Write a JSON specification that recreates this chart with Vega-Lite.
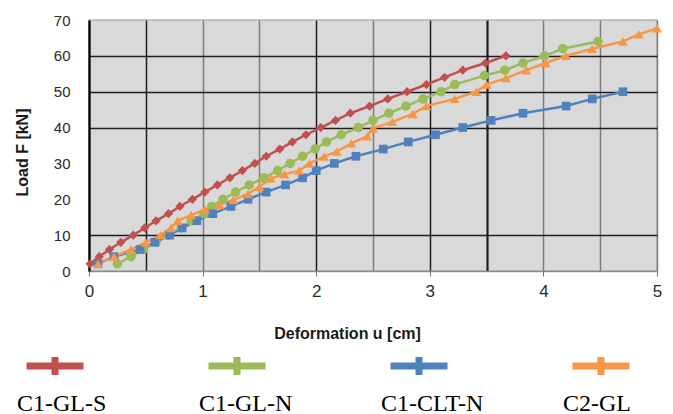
{
  "$schema": "https://vega.github.io/schema/vega-lite/v6.json",
  "width": 568,
  "height": 251,
  "autosize": {"type": "none"},
  "padding": {"left": 89, "top": 20, "right": 16, "bottom": 143},
  "background": "#ffffff",
  "config": {
    "view": {"fill": "#d9d9d9", "stroke": "#b5b5b5", "strokeWidth": 1.5},
    "axis": {"labelFont": "Liberation Sans", "titleFont": "Liberation Sans", "labelColor": "#2a2a2a", "titleColor": "#1a1a1a"}
  },
  "data": {
    "values": [
      {"s": "C1-GL-S", "u": 0.01, "F": 2}, {"s": "C1-GL-S", "u": 0.09, "F": 4}, {"s": "C1-GL-S", "u": 0.18, "F": 6}, {"s": "C1-GL-S", "u": 0.28, "F": 8},
      {"s": "C1-GL-S", "u": 0.39, "F": 10}, {"s": "C1-GL-S", "u": 0.49, "F": 12}, {"s": "C1-GL-S", "u": 0.59, "F": 14}, {"s": "C1-GL-S", "u": 0.70, "F": 16},
      {"s": "C1-GL-S", "u": 0.80, "F": 18}, {"s": "C1-GL-S", "u": 0.91, "F": 20}, {"s": "C1-GL-S", "u": 1.02, "F": 22}, {"s": "C1-GL-S", "u": 1.13, "F": 24},
      {"s": "C1-GL-S", "u": 1.24, "F": 26}, {"s": "C1-GL-S", "u": 1.35, "F": 28}, {"s": "C1-GL-S", "u": 1.46, "F": 30}, {"s": "C1-GL-S", "u": 1.56, "F": 32},
      {"s": "C1-GL-S", "u": 1.68, "F": 34}, {"s": "C1-GL-S", "u": 1.79, "F": 36}, {"s": "C1-GL-S", "u": 1.91, "F": 38}, {"s": "C1-GL-S", "u": 2.04, "F": 40},
      {"s": "C1-GL-S", "u": 2.17, "F": 42}, {"s": "C1-GL-S", "u": 2.30, "F": 44}, {"s": "C1-GL-S", "u": 2.47, "F": 46}, {"s": "C1-GL-S", "u": 2.63, "F": 48},
      {"s": "C1-GL-S", "u": 2.80, "F": 50}, {"s": "C1-GL-S", "u": 2.97, "F": 52}, {"s": "C1-GL-S", "u": 3.13, "F": 54}, {"s": "C1-GL-S", "u": 3.29, "F": 56},
      {"s": "C1-GL-S", "u": 3.49, "F": 58}, {"s": "C1-GL-S", "u": 3.67, "F": 60},

      {"s": "C1-GL-N", "u": 0.25, "F": 2}, {"s": "C1-GL-N", "u": 0.37, "F": 4}, {"s": "C1-GL-N", "u": 0.48, "F": 6}, {"s": "C1-GL-N", "u": 0.59, "F": 8},
      {"s": "C1-GL-N", "u": 0.70, "F": 10}, {"s": "C1-GL-N", "u": 0.81, "F": 12}, {"s": "C1-GL-N", "u": 0.90, "F": 14}, {"s": "C1-GL-N", "u": 1.01, "F": 16},
      {"s": "C1-GL-N", "u": 1.08, "F": 18}, {"s": "C1-GL-N", "u": 1.18, "F": 20}, {"s": "C1-GL-N", "u": 1.29, "F": 22}, {"s": "C1-GL-N", "u": 1.41, "F": 24},
      {"s": "C1-GL-N", "u": 1.54, "F": 26}, {"s": "C1-GL-N", "u": 1.66, "F": 28}, {"s": "C1-GL-N", "u": 1.77, "F": 30}, {"s": "C1-GL-N", "u": 1.88, "F": 32},
      {"s": "C1-GL-N", "u": 1.99, "F": 34}, {"s": "C1-GL-N", "u": 2.09, "F": 36}, {"s": "C1-GL-N", "u": 2.22, "F": 38}, {"s": "C1-GL-N", "u": 2.37, "F": 40},
      {"s": "C1-GL-N", "u": 2.50, "F": 42}, {"s": "C1-GL-N", "u": 2.64, "F": 44}, {"s": "C1-GL-N", "u": 2.79, "F": 46}, {"s": "C1-GL-N", "u": 2.94, "F": 48},
      {"s": "C1-GL-N", "u": 3.10, "F": 50}, {"s": "C1-GL-N", "u": 3.22, "F": 52}, {"s": "C1-GL-N", "u": 3.48, "F": 54.5}, {"s": "C1-GL-N", "u": 3.66, "F": 56},
      {"s": "C1-GL-N", "u": 3.82, "F": 58}, {"s": "C1-GL-N", "u": 4.01, "F": 60}, {"s": "C1-GL-N", "u": 4.17, "F": 62}, {"s": "C1-GL-N", "u": 4.48, "F": 64},

      {"s": "C1-CLT-N", "u": 0.08, "F": 2}, {"s": "C1-CLT-N", "u": 0.22, "F": 4}, {"s": "C1-CLT-N", "u": 0.45, "F": 6}, {"s": "C1-CLT-N", "u": 0.58, "F": 8},
      {"s": "C1-CLT-N", "u": 0.71, "F": 10}, {"s": "C1-CLT-N", "u": 0.82, "F": 12}, {"s": "C1-CLT-N", "u": 0.95, "F": 14}, {"s": "C1-CLT-N", "u": 1.09, "F": 16},
      {"s": "C1-CLT-N", "u": 1.25, "F": 18}, {"s": "C1-CLT-N", "u": 1.40, "F": 20}, {"s": "C1-CLT-N", "u": 1.56, "F": 22}, {"s": "C1-CLT-N", "u": 1.73, "F": 24},
      {"s": "C1-CLT-N", "u": 1.88, "F": 26}, {"s": "C1-CLT-N", "u": 2.00, "F": 28}, {"s": "C1-CLT-N", "u": 2.16, "F": 30}, {"s": "C1-CLT-N", "u": 2.35, "F": 32},
      {"s": "C1-CLT-N", "u": 2.59, "F": 34}, {"s": "C1-CLT-N", "u": 2.81, "F": 36}, {"s": "C1-CLT-N", "u": 3.05, "F": 38}, {"s": "C1-CLT-N", "u": 3.29, "F": 40},
      {"s": "C1-CLT-N", "u": 3.54, "F": 42}, {"s": "C1-CLT-N", "u": 3.82, "F": 44}, {"s": "C1-CLT-N", "u": 4.20, "F": 46}, {"s": "C1-CLT-N", "u": 4.43, "F": 48},
      {"s": "C1-CLT-N", "u": 4.70, "F": 50},

      {"s": "C2-GL", "u": 0.08, "F": 2}, {"s": "C2-GL", "u": 0.22, "F": 4}, {"s": "C2-GL", "u": 0.37, "F": 6}, {"s": "C2-GL", "u": 0.50, "F": 8},
      {"s": "C2-GL", "u": 0.63, "F": 10}, {"s": "C2-GL", "u": 0.72, "F": 12}, {"s": "C2-GL", "u": 0.78, "F": 14}, {"s": "C2-GL", "u": 0.90, "F": 15.6},
      {"s": "C2-GL", "u": 1.02, "F": 17.2}, {"s": "C2-GL", "u": 1.15, "F": 18.4}, {"s": "C2-GL", "u": 1.27, "F": 19.8}, {"s": "C2-GL", "u": 1.40, "F": 21.5},
      {"s": "C2-GL", "u": 1.50, "F": 23.5}, {"s": "C2-GL", "u": 1.60, "F": 25.8}, {"s": "C2-GL", "u": 1.72, "F": 27}, {"s": "C2-GL", "u": 1.85, "F": 28},
      {"s": "C2-GL", "u": 1.94, "F": 30}, {"s": "C2-GL", "u": 2.07, "F": 31.9}, {"s": "C2-GL", "u": 2.18, "F": 33.3}, {"s": "C2-GL", "u": 2.31, "F": 35.6},
      {"s": "C2-GL", "u": 2.45, "F": 37.6}, {"s": "C2-GL", "u": 2.50, "F": 39.8}, {"s": "C2-GL", "u": 2.67, "F": 41.6}, {"s": "C2-GL", "u": 2.85, "F": 43.8},
      {"s": "C2-GL", "u": 2.97, "F": 46}, {"s": "C2-GL", "u": 3.22, "F": 48}, {"s": "C2-GL", "u": 3.41, "F": 50}, {"s": "C2-GL", "u": 3.50, "F": 52},
      {"s": "C2-GL", "u": 3.67, "F": 53.8}, {"s": "C2-GL", "u": 3.85, "F": 56}, {"s": "C2-GL", "u": 4.02, "F": 58}, {"s": "C2-GL", "u": 4.20, "F": 60},
      {"s": "C2-GL", "u": 4.43, "F": 62}, {"s": "C2-GL", "u": 4.70, "F": 64}, {"s": "C2-GL", "u": 4.84, "F": 66}, {"s": "C2-GL", "u": 5.00, "F": 67.7}
    ]
  },
  "encoding": {
    "x": {
      "field": "u", "type": "quantitative",
      "scale": {"domain": [0, 5], "nice": false, "zero": false},
      "axis": {
        "title": "Deformation u [cm]",
        "titleFontSize": 16, "titleFontWeight": "bold",
        "titleX": 258, "titleY": 62, "titleAlign": "center", "titleBaseline": "middle",
        "values": [0, 0.5, 1, 1.5, 2, 2.5, 3, 3.5, 4, 4.5, 5],
        "labelExpr": "datum.value % 1 === 0 ? format(datum.value, 'd') : ''",
        "labelFontSize": 17, "labelPadding": 7, "labelFlush": false,
        "tickSize": 5, "tickColor": "#707070", "tickWidth": 1,
        "tickOpacity": {"condition": {"test": "datum.value % 1 !== 0", "value": 0}, "value": 1},
        "domainColor": "#8a8a8a", "domainWidth": 1.5,
        "grid": true,
        "gridColor": {"condition": {"test": "datum.value == 0.5 || datum.value == 3 || datum.value == 3.5 || datum.value == 2", "value": "#1e1e1e"}, "value": "#7c7c7c"},
        "gridWidth": {"condition": {"test": "datum.value == 3.5", "value": 2.2}, "value": 1.5},
        "gridOpacity": 1
      }
    },
    "y": {
      "field": "F", "type": "quantitative",
      "scale": {"domain": [0, 70], "nice": false},
      "axis": {
        "title": "Load F [kN]",
        "titleFontSize": 16, "titleFontWeight": "bold",
        "titleX": -67, "titleY": 132, "titleAngle": -90, "titleAlign": "center", "titleBaseline": "middle",
        "values": [0, 10, 20, 30, 40, 50, 60, 70],
        "labelFontSize": 15, "labelPadding": 19,
        "ticks": false,
        "domainColor": "#000000", "domainWidth": 2.2,
        "grid": true,
        "gridColor": "#1e1e1e", "gridWidth": 1.5,
        "gridOpacity": {"condition": {"test": "datum.value == 0 || datum.value == 20 || datum.value == 30 || datum.value == 70", "value": 0}, "value": 1}
      }
    }
  },
  "layer": [
    {
      "mark": {"type": "line", "strokeWidth": 2.5},
      "encoding": {
        "color": {
          "field": "s", "type": "nominal",
          "scale": {"domain": ["C1-GL-S", "C1-GL-N", "C1-CLT-N", "C2-GL"], "range": ["#c0504d", "#9bbb59", "#4f81bd", "#f79646"]},
          "legend": {
            "title": null,
            "orient": "none", "legendX": -66, "legendY": 314,
            "direction": "horizontal", "columns": 4,
            "symbolType": "M-1,0H1M0,-0.32V0.32",
            "symbolSize": 3249, "symbolStrokeWidth": 7, "symbolOpacity": 1,
            "labelFont": "Liberation Serif", "labelFontSize": 24, "labelColor": "#000000",
            "labelOffset": -70, "labelBaseline": "top",
            "labelExpr": "['', datum.label]",
            "columnPadding": 74, "gridAlign": "all", "labelLimit": 300
          }
        }
      }
    },
    {
      "transform": [{"filter": "datum.s === 'C1-GL-S'"}],
      "mark": {"type": "point", "filled": true, "size": 85, "opacity": 1, "strokeWidth": 0, "shape": "diamond"},
      "encoding": {"fill": {"field": "s", "type": "nominal", "scale": {"domain": ["C1-GL-S", "C1-GL-N", "C1-CLT-N", "C2-GL"], "range": ["#c0504d", "#9bbb59", "#4f81bd", "#f79646"]}, "legend": null}}
    },
    {
      "transform": [{"filter": "datum.s === 'C1-GL-N'"}],
      "mark": {"type": "point", "filled": true, "size": 90, "opacity": 1, "strokeWidth": 0, "shape": "circle"},
      "encoding": {"fill": {"field": "s", "type": "nominal", "scale": {"domain": ["C1-GL-S", "C1-GL-N", "C1-CLT-N", "C2-GL"], "range": ["#c0504d", "#9bbb59", "#4f81bd", "#f79646"]}, "legend": null}}
    },
    {
      "transform": [{"filter": "datum.s === 'C1-CLT-N'"}],
      "mark": {"type": "point", "filled": true, "size": 75, "opacity": 1, "strokeWidth": 0, "shape": "square"},
      "encoding": {"fill": {"field": "s", "type": "nominal", "scale": {"domain": ["C1-GL-S", "C1-GL-N", "C1-CLT-N", "C2-GL"], "range": ["#c0504d", "#9bbb59", "#4f81bd", "#f79646"]}, "legend": null}}
    },
    {
      "transform": [{"filter": "datum.s === 'C2-GL'"}],
      "mark": {"type": "point", "filled": true, "size": 95, "opacity": 1, "strokeWidth": 0, "shape": "triangle-up"},
      "encoding": {"fill": {"field": "s", "type": "nominal", "scale": {"domain": ["C1-GL-S", "C1-GL-N", "C1-CLT-N", "C2-GL"], "range": ["#c0504d", "#9bbb59", "#4f81bd", "#f79646"]}, "legend": null}}
    }
  ]
}
